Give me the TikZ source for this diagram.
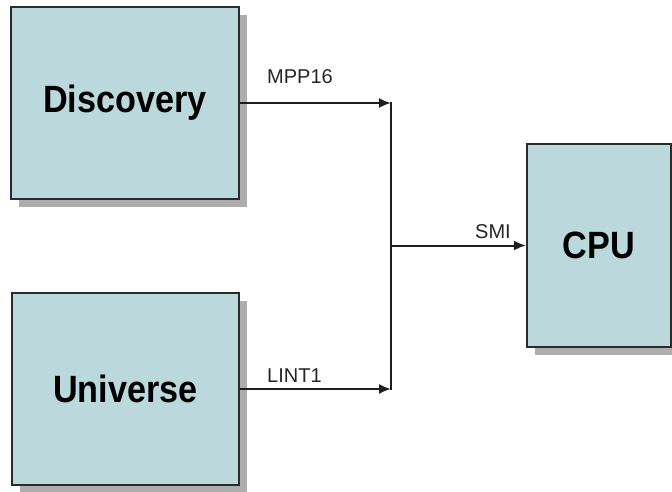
\documentclass[tikz,border=0pt]{standalone}
\usepackage{fontspec}
\setmainfont{Liberation Sans}
\newfontfamily\boxfont[FakeStretch=0.9]{Liberation Sans}
\usetikzlibrary{arrows.meta,shadows}
\definecolor{boxfill}{HTML}{BBD9DC}
\definecolor{boxline}{HTML}{2B2B2B}
\definecolor{wire}{HTML}{1E1E1E}
\tikzset{
  unit/.style={draw=boxline, line width=2.2pt, fill=boxfill, inner sep=0pt,
    drop shadow={shadow xshift=8pt, shadow yshift=-8pt, fill=black!40, opacity=0.8},
    font=\boxfont\bfseries\fontsize{38}{40}\selectfont, text=black},
  wirearrow/.style={draw=wire, line width=2pt, -{Latex[length=12pt,width=10pt]}},
  wireline/.style={draw=wire, line width=2pt},
  sig/.style={font=\fontsize{20}{22}\selectfont, text=black!85, inner sep=0pt, anchor=base west}
}
\begin{document}
\begin{tikzpicture}[x=1pt,y=-1pt]
\useasboundingbox (0,0) rectangle (672,491);
\node[unit, minimum width=228pt, minimum height=192pt] (disc) at (125,103) {\raisebox{3pt}{Discovery}};
\node[unit, minimum width=227pt, minimum height=192pt] (univ) at (125.5,389) {Universe};
\node[unit, minimum width=144pt, minimum height=203pt] (cpu) at (599,245.5) {CPU};
\coordinate (j1) at (391,103);
\coordinate (j2) at (391,389);
\coordinate (j3) at (391,245.5);
\draw[wirearrow] (disc.east) -- (j1);
\draw[wirearrow] (univ.east) -- (j2);
\draw[wireline] ([yshift=1pt]j1) -- ([yshift=-1pt]j2);
\draw[wirearrow] (j3) -- (cpu.west);
\node[sig] (lmpp) at (267,83) {MPP16};
\node[sig] (llint) at (267,382) {LINT1};
\node[sig] (lsmi) at (475,238) {SMI};
\end{tikzpicture}
\end{document}
